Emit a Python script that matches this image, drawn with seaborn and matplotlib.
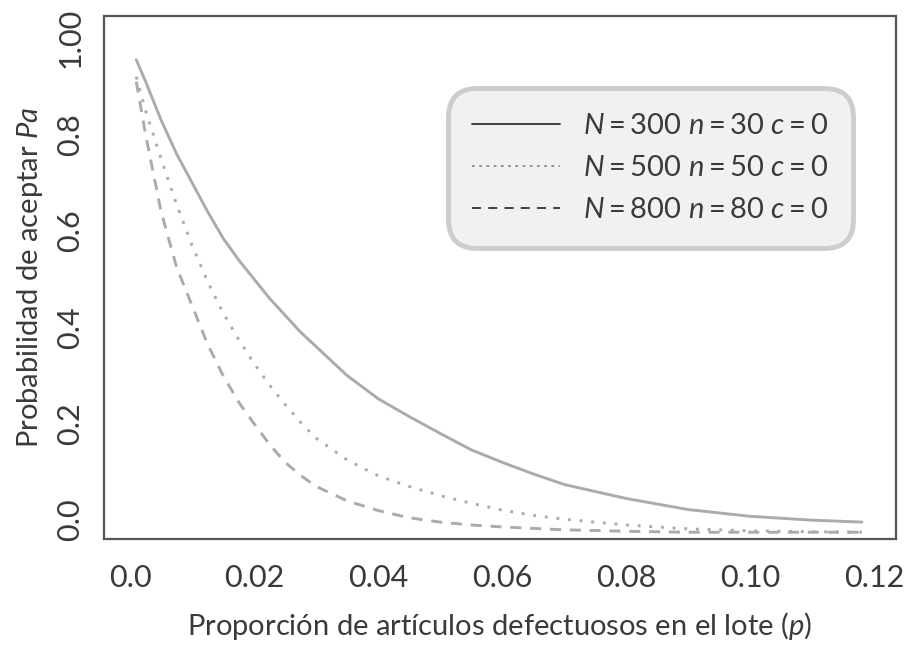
import pandas as pd
import matplotlib
matplotlib.use("Agg")
import matplotlib.pyplot as plt
import seaborn as sns
from matplotlib.lines import Line2D

# proporción de defectuosos (p)
p_vals = [0.001, 0.0025, 0.005, 0.0075, 0.01, 0.0125, 0.015, 0.0175, 0.02, 0.0225,
          0.025, 0.0275, 0.03, 0.035, 0.04, 0.045, 0.05, 0.055, 0.06, 0.065,
          0.07, 0.08, 0.09, 0.10, 0.11, 0.118]

# probabilidad de aceptación para cada plan
pa_300 = [0.955, 0.91, 0.83, 0.76, 0.70, 0.64, 0.585, 0.54, 0.50, 0.46,
          0.425, 0.39, 0.36, 0.30, 0.252, 0.215, 0.18, 0.146, 0.12, 0.096,
          0.074, 0.045, 0.022, 0.008, 0.0, -0.004]
pa_500 = [0.92, 0.85, 0.75, 0.655, 0.57, 0.495, 0.43, 0.375, 0.325, 0.28,
          0.24, 0.203, 0.17, 0.125, 0.092, 0.07, 0.051, 0.035, 0.021, 0.01,
          0.002, -0.01, -0.018, -0.022, -0.024, -0.025]
pa_800 = [0.91, 0.80, 0.64, 0.525, 0.445, 0.365, 0.30, 0.245, 0.20, 0.157,
          0.12, 0.093, 0.07, 0.04, 0.02, 0.005, -0.004, -0.01, -0.014, -0.017,
          -0.02, -0.023, -0.025, -0.025, -0.025, -0.025]

labels = [r"$N = 300\ n = 30\ c = 0$",
          r"$N = 500\ n = 50\ c = 0$",
          r"$N = 800\ n = 80\ c = 0$"]

x_ticks = [0.0, 0.02, 0.04, 0.06, 0.08, 0.10, 0.12]
x_ticklabels = ["0.0", "0.02", "0.04", "0.06", "0.08", "0.10", "0.12"]
y_ticks = [0.0, 0.2, 0.4, 0.6, 0.8, 1.0]
y_ticklabels = ["0.0", "0.2", "0.4", "0.6", "0.8", "1.00"]

df = pd.DataFrame({"p": p_vals * 3,
                   "Pa": pa_300 + pa_500 + pa_800,
                   "plan": [labels[0]] * len(p_vals) + [labels[1]] * len(p_vals) + [labels[2]] * len(p_vals)})

sns.set_style("white")
plt.rcParams["font.family"] = ["Lato", "DejaVu Sans"]
plt.rcParams["mathtext.fontset"] = "custom"
plt.rcParams["mathtext.rm"] = "Lato"
plt.rcParams["mathtext.it"] = "Lato:italic"

text_col = "#3a3a3a"
line_col = "#ababab"
box_col = "#555555"

fig = plt.figure(figsize=(9.07, 6.5), dpi=100)
ax = fig.add_axes([0.1147, 0.1708, 0.8732, 0.8046])

dash_styles = [None, (1.0, 3.0), (3.8, 3.0)]
for lab, dash in zip(labels, dash_styles):
    sub = df[df["plan"] == lab]
    sns.lineplot(data=sub, x="p", y="Pa", ax=ax, color=line_col, linewidth=2.1,
                 legend=False)
    if dash is not None:
        ax.lines[-1].set_dashes(dash)

ax.set_xlim(-0.0042, 0.1235)
ax.set_ylim(-0.039, 1.046)
ax.set_xticks(x_ticks)
ax.set_xticklabels(x_ticklabels)
ax.set_yticks(y_ticks)
ax.set_yticklabels(y_ticklabels, rotation=90, va="center")
ax.tick_params(axis="both", direction="out", length=7, width=1.4, color=box_col,
               labelsize=22, labelcolor=text_col, pad=7)
ax.tick_params(axis="x", pad=11)
for s in ax.spines.values():
    s.set_visible(True)
    s.set_color(box_col)
    s.set_linewidth(1.6)

ax.set_xlabel(r"Proporción de artículos defectuosos en el lote ($\mathit{p}$)",
              fontsize=21, color=text_col, labelpad=13)
ax.set_ylabel(r"Probabilidad de aceptar $\mathit{Pa}$", fontsize=21,
              color=text_col, labelpad=8)

handles = [Line2D([], [], color="#333333", lw=1.3, linestyle="-"),
           Line2D([], [], color="#888888", lw=1.3, dashes=(1.5, 2.5)),
           Line2D([], [], color="#333333", lw=1.3, dashes=(5, 4))]
leg = ax.legend(handles, labels, loc="upper right", bbox_to_anchor=(0.946, 0.862),
                fontsize=21, frameon=True, fancybox=True, handlelength=3.0,
                handletextpad=0.8, labelspacing=0.55, borderpad=0.85,
                borderaxespad=0)
frame = leg.get_frame()
frame.set_boxstyle("round,pad=0,rounding_size=1.0")
frame.set_facecolor("#f1f1f1")
frame.set_edgecolor("#cdcdcd")
frame.set_linewidth(3.5)
frame.set_alpha(1)
for t in leg.get_texts():
    t.set_color(text_col)

fig.savefig("out.png", dpi=100, facecolor="white")
